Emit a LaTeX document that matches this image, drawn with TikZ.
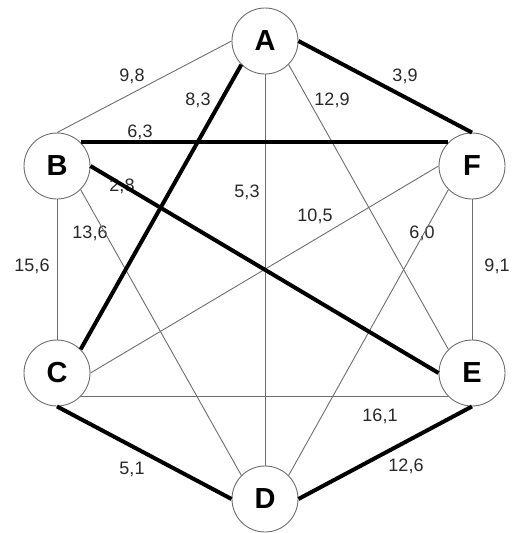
\documentclass[tikz,border=0pt]{standalone}
\usepackage{fontspec}
\setmainfont{Liberation Sans}
\usepackage{tikz}
\usetikzlibrary{positioning}
\definecolor{linegray}{RGB}{110,110,110}
\definecolor{textgray}{RGB}{40,40,40}

\begin{document}
\begin{tikzpicture}[x=1pt,y=-1pt,
    vertex/.style={circle,draw=linegray,line width=0.9pt,fill=white,minimum size=66pt,inner sep=0pt,font=\fontsize{29}{30}\selectfont\bfseries},
    weight/.style={text=textgray,inner sep=0pt,font=\fontsize{18}{20}\selectfont},
    thinedge/.style={draw=linegray,line width=0.9pt},
    boldedge/.style={draw=black,line width=4pt}]
    \useasboundingbox (0,0) rectangle (517,533);

    \node[vertex] (A) at (265, 41) {A};
    \node[vertex] (B) at (57, 166) {B};
    \node[vertex] (F) at (472, 166) {F};
    \node[vertex] (C) at (57, 373) {C};
    \node[vertex] (E) at (472, 373) {E};
    \node[vertex] (D) at (265, 499) {D};

    \node[weight] (wAB) at (132, 76) {9,8};
    \node[weight] (wAC) at (198, 100) {8,3};
    \node[weight] (wAE) at (332, 100) {12,9};
    \node[weight] (wAF) at (405, 76) {3,9};
    \node[weight] (wBF) at (140, 132) {6,3};
    \node[weight] (wBE) at (122, 186) {2,8};
    \node[weight] (wAD) at (247, 192) {5,3};
    \node[weight] (wCF) at (315, 216) {10,5};
    \node[weight] (wBD) at (90, 233) {13,6};
    \node[weight] (wDF) at (422, 233) {6,0};
    \node[weight] (wBC) at (32, 266) {15,6};
    \node[weight] (wEF) at (497, 266) {9,1};
    \node[weight] (wCE) at (380, 416) {16,1};
    \node[weight] (wCD) at (132, 469) {5,1};
    \node[weight] (wDE) at (406, 466) {12,6};

    \draw[thinedge] (A.west) -- (B.north);
    \draw[thinedge] (A.south) -- (D.north);
    \draw[thinedge] (A.south east) -- (E.north west);
    \draw[thinedge] (B.south) -- (C.north);
    \draw[thinedge] (B.south east) -- (D.north west);
    \draw[thinedge] (F.west) -- (C.east);
    \draw[thinedge] (F.south west) -- (D.north east);
    \draw[thinedge] (F.south) -- (E.north);
    \draw[thinedge] (C.south east) -- (E.south west);

    \draw[boldedge] (A.east) -- (F.north);
    \draw[boldedge] (A.south west) -- (C.north east);
    \draw[boldedge] (B.north east) -- (F.north west);
    \draw[boldedge] (B.east) -- (E.west);
    \draw[boldedge] (C.south) -- (D.west);
    \draw[boldedge] (D.east) -- (E.south);
\end{tikzpicture}
\end{document}
